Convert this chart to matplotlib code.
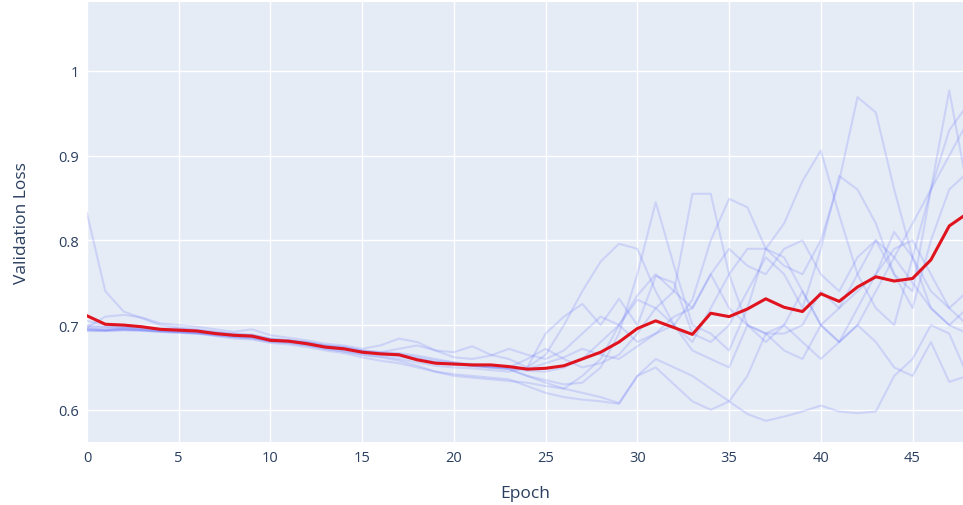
import matplotlib.pyplot as plt

plt.rcParams['font.family'] = ['Open Sans', 'DejaVu Sans']

epochs = list(range(49))

# mean validation loss over all runs
mean_loss = [0.711, 0.701, 0.700, 0.698, 0.695, 0.694, 0.693, 0.690, 0.688, 0.687,
             0.682, 0.681, 0.678, 0.674, 0.672, 0.668, 0.666, 0.665, 0.659, 0.655,
             0.654, 0.653, 0.653, 0.651, 0.648, 0.649, 0.652, 0.660, 0.668, 0.680,
             0.696, 0.705, 0.697, 0.689, 0.714, 0.710, 0.719, 0.731, 0.721, 0.716,
             0.737, 0.728, 0.745, 0.757, 0.752, 0.755, 0.777, 0.817, 0.832]

# individual runs
run1 = [0.832, 0.740, 0.716, 0.708, 0.700, 0.697, 0.695, 0.692, 0.689, 0.688,
        0.684, 0.682, 0.679, 0.675, 0.673, 0.669, 0.667, 0.665, 0.660, 0.656,
        0.655, 0.652, 0.650, 0.648, 0.640, 0.632, 0.625, 0.640, 0.660, 0.700,
        0.735, 0.760, 0.740, 0.720, 0.760, 0.790, 0.770, 0.760, 0.790, 0.800,
        0.760, 0.740, 0.780, 0.800, 0.760, 0.720, 0.800, 0.860, 0.880]
run2 = [0.695, 0.694, 0.696, 0.695, 0.693, 0.692, 0.691, 0.688, 0.686, 0.684,
        0.680, 0.679, 0.676, 0.672, 0.669, 0.665, 0.663, 0.660, 0.656, 0.652,
        0.650, 0.649, 0.647, 0.645, 0.650, 0.665, 0.700, 0.740, 0.775, 0.796,
        0.790, 0.740, 0.700, 0.670, 0.660, 0.650, 0.700, 0.690, 0.670, 0.660,
        0.700, 0.720, 0.760, 0.800, 0.780, 0.750, 0.720, 0.700, 0.690]
run3 = [0.700, 0.698, 0.697, 0.697, 0.696, 0.696, 0.694, 0.692, 0.690, 0.689,
        0.684, 0.682, 0.680, 0.676, 0.674, 0.670, 0.668, 0.667, 0.664, 0.660,
        0.656, 0.652, 0.650, 0.648, 0.640, 0.635, 0.630, 0.632, 0.650, 0.690,
        0.760, 0.845, 0.770, 0.700, 0.690, 0.670, 0.720, 0.790, 0.780, 0.740,
        0.700, 0.680, 0.700, 0.740, 0.780, 0.820, 0.860, 0.900, 0.940]
run4 = [0.694, 0.693, 0.694, 0.694, 0.692, 0.691, 0.690, 0.689, 0.686, 0.685,
        0.681, 0.680, 0.677, 0.673, 0.671, 0.667, 0.665, 0.663, 0.659, 0.655,
        0.653, 0.652, 0.650, 0.649, 0.646, 0.645, 0.650, 0.660, 0.680, 0.700,
        0.730, 0.720, 0.740, 0.855, 0.855, 0.760, 0.700, 0.680, 0.700, 0.740,
        0.700, 0.680, 0.720, 0.760, 0.810, 0.780, 0.740, 0.720, 0.700]
run5 = [0.696, 0.695, 0.695, 0.694, 0.693, 0.692, 0.691, 0.690, 0.688, 0.687,
        0.683, 0.681, 0.679, 0.675, 0.673, 0.669, 0.667, 0.666, 0.662, 0.658,
        0.656, 0.654, 0.652, 0.650, 0.648, 0.655, 0.662, 0.672, 0.665, 0.660,
        0.675, 0.690, 0.700, 0.730, 0.800, 0.849, 0.839, 0.790, 0.770, 0.760,
        0.800, 0.870, 0.969, 0.951, 0.860, 0.780, 0.720, 0.700, 0.720]
run6 = [0.698, 0.697, 0.697, 0.696, 0.694, 0.693, 0.692, 0.689, 0.687, 0.686,
        0.682, 0.681, 0.678, 0.674, 0.672, 0.668, 0.666, 0.664, 0.660, 0.656,
        0.654, 0.652, 0.651, 0.650, 0.660, 0.672, 0.660, 0.650, 0.655, 0.665,
        0.690, 0.720, 0.700, 0.680, 0.720, 0.760, 0.790, 0.790, 0.820, 0.870,
        0.906, 0.830, 0.760, 0.720, 0.700, 0.780, 0.860, 0.977, 0.860]
run7 = [0.693, 0.693, 0.694, 0.693, 0.692, 0.691, 0.690, 0.688, 0.686, 0.685,
        0.681, 0.679, 0.676, 0.672, 0.669, 0.665, 0.662, 0.658, 0.652, 0.645,
        0.640, 0.638, 0.636, 0.634, 0.632, 0.628, 0.625, 0.620, 0.615, 0.608,
        0.640, 0.660, 0.650, 0.640, 0.625, 0.610, 0.595, 0.587, 0.592, 0.598,
        0.605, 0.598, 0.596, 0.598, 0.640, 0.660, 0.700, 0.690, 0.640]
run8 = [0.695, 0.694, 0.695, 0.694, 0.693, 0.692, 0.690, 0.687, 0.684, 0.683,
        0.679, 0.677, 0.674, 0.670, 0.667, 0.662, 0.658, 0.655, 0.650, 0.645,
        0.642, 0.640, 0.638, 0.636, 0.628, 0.620, 0.615, 0.612, 0.610, 0.607,
        0.640, 0.650, 0.630, 0.610, 0.600, 0.610, 0.640, 0.690, 0.700, 0.680,
        0.660, 0.680, 0.700, 0.680, 0.650, 0.640, 0.680, 0.633, 0.640]
run9 = [0.697, 0.710, 0.712, 0.709, 0.702, 0.700, 0.698, 0.695, 0.692, 0.695,
        0.688, 0.685, 0.682, 0.678, 0.676, 0.672, 0.676, 0.684, 0.680, 0.670,
        0.668, 0.675, 0.665, 0.660, 0.650, 0.690, 0.710, 0.725, 0.700, 0.731,
        0.700, 0.758, 0.750, 0.690, 0.680, 0.700, 0.740, 0.780, 0.760, 0.720,
        0.790, 0.876, 0.860, 0.820, 0.760, 0.740, 0.860, 0.930, 0.960]
run10 = [0.705, 0.700, 0.698, 0.697, 0.695, 0.695, 0.694, 0.691, 0.689, 0.688,
         0.683, 0.682, 0.680, 0.676, 0.674, 0.670, 0.668, 0.672, 0.676, 0.670,
         0.662, 0.660, 0.664, 0.672, 0.665, 0.660, 0.670, 0.690, 0.710, 0.700,
         0.680, 0.690, 0.710, 0.720, 0.760, 0.720, 0.700, 0.690, 0.690, 0.700,
         0.740, 0.720, 0.740, 0.760, 0.790, 0.800, 0.760, 0.720, 0.740]
runs = [run1, run2, run3, run4, run5, run6, run7, run8, run9, run10]

xticks = [0, 5, 10, 15, 20, 25, 30, 35, 40, 45]
yticks = [0.6, 0.7, 0.8, 0.9, 1.0]
ylabels = ["0.6", "0.7", "0.8", "0.9", "1"]

fig = plt.figure(figsize=(9.63, 5.06), dpi=100)
ax = fig.add_axes([0.0903, 0.1245, 0.9097, 0.869])
ax.set_facecolor("#E5ECF6")

for r in runs:
    ax.plot(epochs, r, color="#636EFA", alpha=0.2, lw=1.5)
ax.plot(epochs, mean_loss, color="#E0141E", lw=2.2)

ax.set_xlim(0, 47.75)
ax.set_ylim(0.562, 1.081)
ax.set_xticks(xticks)
ax.set_yticks(yticks, ylabels)
ax.grid(color="white", lw=1)
ax.set_axisbelow(True)
for s in ax.spines.values():
    s.set_visible(False)
ax.tick_params(length=0, labelsize=10.5, colors="#2a3f5f", pad=6)
ax.set_xlabel("Epoch", fontsize=12.5, color="#2a3f5f", labelpad=14)
ax.set_ylabel("Validation Loss", fontsize=12.5, color="#2a3f5f", labelpad=20)

fig.savefig("out.png", dpi=100)
